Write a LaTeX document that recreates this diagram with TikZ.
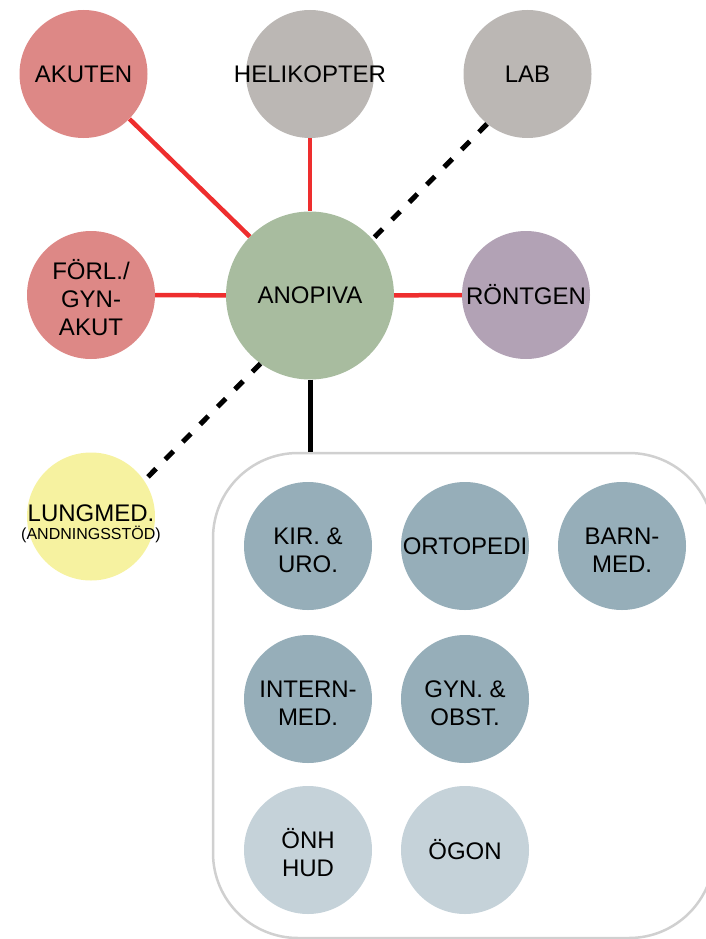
\documentclass[tikz,border=0pt]{standalone}
\usepackage{fontspec}
\setmainfont{Liberation Sans}

\definecolor{emergred}{HTML}{DD8886}
\definecolor{servgray}{HTML}{BBB7B4}
\definecolor{hubgreen}{HTML}{A8BC9F}
\definecolor{xraylilac}{HTML}{B2A2B5}
\definecolor{lungyellow}{HTML}{F6F2A0}
\definecolor{deptblue}{HTML}{96AEB9}
\definecolor{deptlight}{HTML}{C5D2D9}
\definecolor{linkred}{HTML}{EE2E2E}
\definecolor{framegray}{HTML}{D0D0D0}

% raises the first line of stacked labels so the block sits centred
\newcommand{\firstline}{\rule{0pt}{25pt}}

\begin{document}
\begin{tikzpicture}[x=1pt,y=-1pt,
  unit/.style={circle, minimum size=128pt, inner sep=0pt, align=center,
    font=\fontsize{24}{28}\selectfont, text=black},
  hub/.style={unit, minimum size=168pt, fill=hubgreen},
  dept/.style={unit, fill=deptblue},
  deptpale/.style={unit, fill=deptlight},
  redlink/.style={draw=linkred, line width=4.5pt},
  dashlink/.style={draw=black, line width=5pt, dash pattern=on 11.5pt off 13.2pt},
  solidlink/.style={draw=black, line width=5pt},
  groupframe/.style={draw=framegray, line width=2.5pt, rounded corners=85pt,
    inner sep=0pt, minimum width=501pt, minimum height=485pt}
]
\useasboundingbox (0,0) rectangle (706,939);

% frame round the departments, running past the page edge
\begin{scope}
  \clip (0,0) rectangle (706,939);
  \node[groupframe] (group) at (463.5,695.5) {};
\end{scope}

% centre
\node[hub] (anopiva) at (310,295.5) {ANOPIVA};

% outer ring
\node[unit, fill=emergred] (akuten) at (83.5,74) {AKUTEN};
\node[unit, fill=servgray] (heli) at (310,74) {\makebox[0pt]{HELIKOPTER}};
\node[unit, fill=servgray] (lab) at (527.5,74) {LAB};
\node[unit, fill=emergred] (forl) at (91,295) {\firstline FÖRL./\\GYN-\\AKUT};
\node[unit, fill=xraylilac] (rontgen) at (526,295) {RÖNTGEN};
\node[unit, fill=lungyellow] (lungmed) at (91,516.5)
  {\rule{0pt}{31pt}\makebox[0pt]{LUNGMED.}\\[-10.5pt]%
   \makebox[0pt]{\fontsize{16}{18}\selectfont(ANDNINGSSTÖD)}};

% departments
\node[dept] (kir) at (308,546) {\firstline KIR. \&\\URO.};
\node[dept] (orto) at (465,546) {ORTOPEDI};
\node[dept] (barn) at (622,546) {\firstline BARN-\\MED.};
\node[dept] (intern) at (308,699) {\firstline INTERN-\\MED.};
\node[dept] (gyn) at (465,699) {\firstline GYN. \&\\OBST.};
\node[deptpale] (onh) at (308,850) {\firstline ÖNH\\HUD};
\node[deptpale] (ogon) at (465,850) {ÖGON};

% links
\draw[redlink] (akuten) -- (anopiva);
\draw[redlink] (heli) -- (anopiva);
\draw[redlink] (forl) -- (anopiva);
\draw[redlink] (anopiva) -- (rontgen);
\draw[dashlink] (lab.231) -- (anopiva.42);
\draw[dashlink] (anopiva.234) -- (lungmed.34);
\draw[solidlink] (anopiva.south) -- (anopiva.south |- group.north);
\end{tikzpicture}
\end{document}
